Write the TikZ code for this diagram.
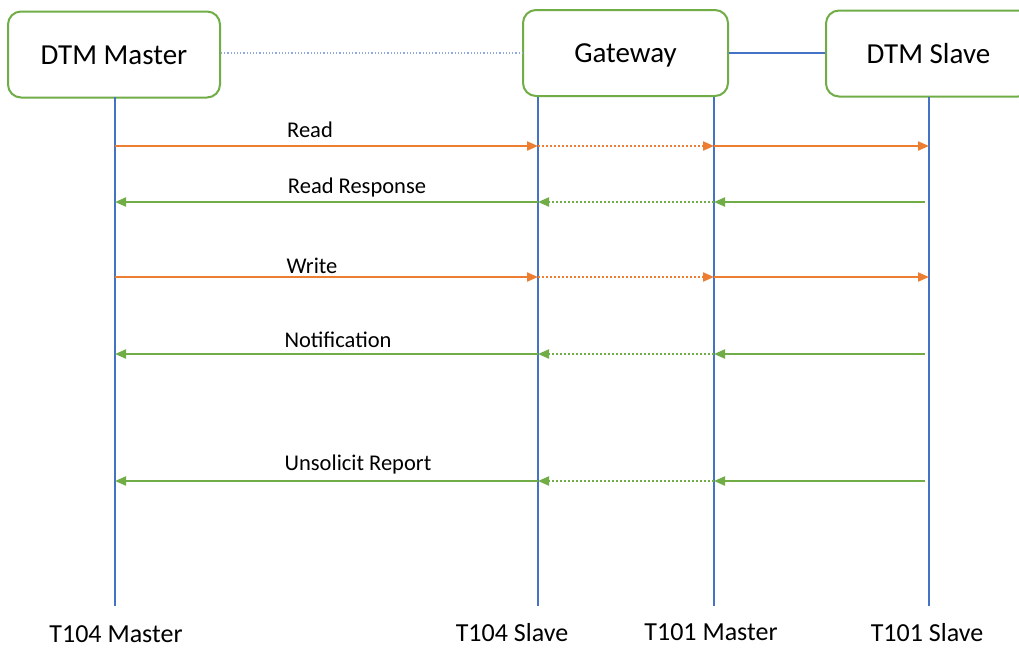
\documentclass[tikz,border=0pt]{standalone}
\usepackage{fontspec}
\setmainfont{Carlito}
\usetikzlibrary{arrows.meta}
\definecolor{ored}{HTML}{ED7D31}
\definecolor{grn}{HTML}{70AD47}
\definecolor{blu}{HTML}{4472C4}
\definecolor{lblu}{HTML}{8FAADC}
\tikzset{
  x=1pt,y=-1pt,
  actor/.style={draw=grn,line width=2pt,rounded corners=13pt,fill=white,minimum height=86pt,font=\fontsize{29}{33}\selectfont,inner sep=0pt,text height=19pt,text depth=0pt},
  life/.style={draw=blu,line width=1.5pt},
  req/.style={draw=ored,line width=2pt,-{Triangle[length=11pt,width=9pt]}},
  reqd/.style={req,dotted},
  rsp/.style={draw=grn,line width=2pt,-{Triangle[length=11pt,width=9pt]}},
  rspd/.style={rsp,dotted},
  msg/.style={font=\fontsize{22.5}{26}\selectfont,inner sep=0pt},
  port/.style={font=\fontsize{26}{30}\selectfont,inner sep=0pt}
}
\begin{document}
\begin{tikzpicture}
\clip (0,0) rectangle (1019,648);
\fill[white] (0,0) rectangle (1019,648);
% actors
\node[actor,minimum width=212pt] (dm) at (114,54.5) {DTM Master};
\node[actor,minimum width=205pt] (gw) at (625.5,53) {Gateway};
\node[actor,minimum width=205pt] (ds) at (928.5,53.5) {DTM Slave};
\draw[lblu,line width=1.2pt,dotted] (dm.east |- 0,53) coordinate (c1) -- (gw.west |- 0,53) coordinate (c2);
\draw[blu,line width=1.5pt] (gw.east |- 0,53) coordinate (c3) -- (ds.west |- 0,53) coordinate (c4);
% lifelines
\coordinate (L1t) at (115,97); \coordinate (L1b) at (115,606);
\coordinate (L2t) at (538,97); \coordinate (L2b) at (538,606);
\coordinate (L3t) at (714,97); \coordinate (L3b) at (714,606);
\coordinate (L4t) at (929,97); \coordinate (L4b) at (929,606);
\draw[life] (L1t) -- (L1b);
\draw[life] (L2t) -- (L2b);
\draw[life] (L3t) -- (L3b);
\draw[life] (L4t) -- (L4b);
% message coordinates
\foreach \n/\y in {rd/146,rr/202,wr/277,nt/354,ur/481}{
  \coordinate (\n1) at (115,\y);
  \coordinate (\n2) at (538,\y);
  \coordinate (\n3) at (714,\y);
  \coordinate (\n4) at (929,\y);
  \coordinate (\n5) at (925,\y);
}
% requests
\draw[req] (rd1) -- (rd2);
\draw[reqd] (rd2) -- (rd3);
\draw[req] (rd3) -- (rd4);
\draw[req] (wr1) -- (wr2);
\draw[reqd] (wr2) -- (wr3);
\draw[req] (wr3) -- (wr4);
% responses
\foreach \n in {rr,nt,ur}{
  \draw[rsp] (\n5) -- (\n3);
  \draw[rspd] (\n3) -- (\n2);
  \draw[rsp] (\n2) -- (\n1);
}
% labels
\node[msg] (tr) at (310,130) {Read};
\node[msg] (trr) at (357,187) {Read Response};
\node[msg] (tw) at (312,266) {Write};
\node[msg] (tn) at (338,340) {Notification};
\node[msg] (tu) at (358,464) {Unsolicit Report};
% ports
\node[port] (p1) at (116,634) {T104 Master};
\node[port] (p2) at (512,633) {T104 Slave};
\node[port] (p3) at (711,632) {T101 Master};
\node[port] (p4) at (927,633) {T101 Slave};
\end{tikzpicture}
\end{document}
